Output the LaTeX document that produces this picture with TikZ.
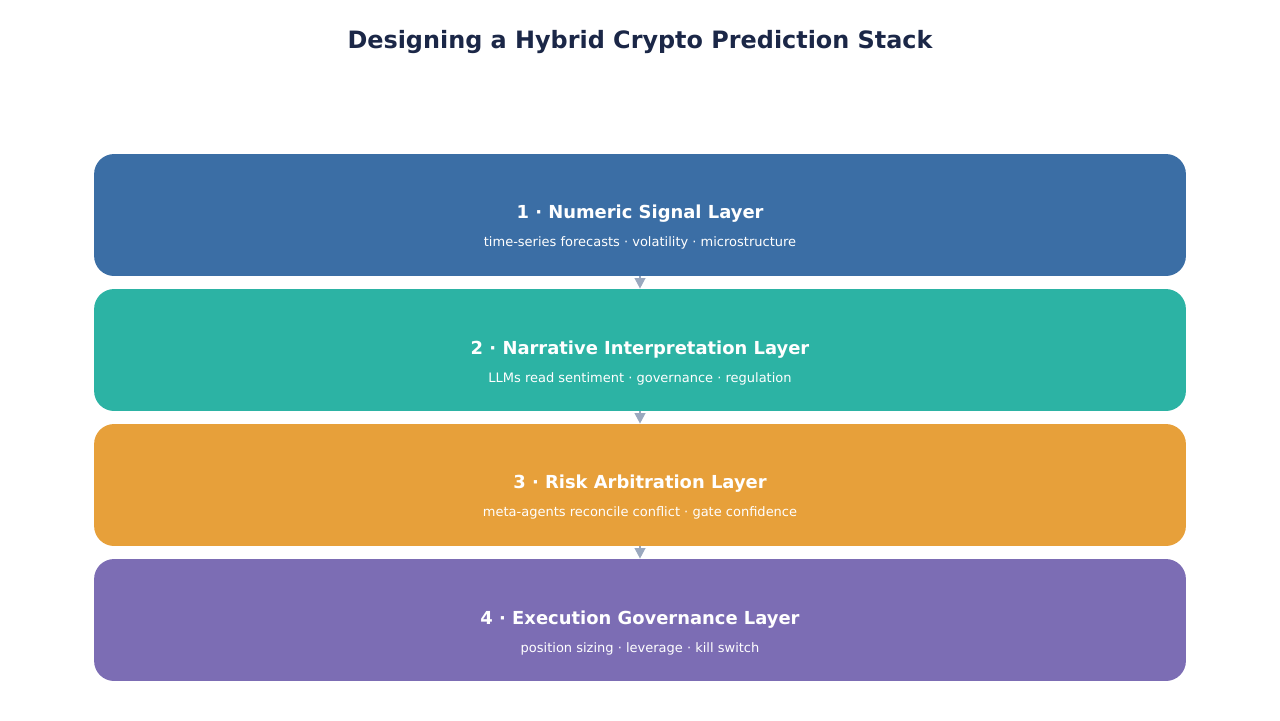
\documentclass[tikz,border=0pt]{standalone}
\usepackage{fontspec}
\setmainfont{DejaVu Sans}
\usetikzlibrary{arrows.meta}
\definecolor{titlecol}{HTML}{1B2747}
\definecolor{numcol}{HTML}{3B6EA5}
\definecolor{narcol}{HTML}{2CB3A4}
\definecolor{riskcol}{HTML}{E7A03A}
\definecolor{execcol}{HTML}{7C6DB4}
\definecolor{arrcol}{HTML}{9AA8BE}
\begin{document}
\begin{tikzpicture}[x=0.02cm,y=-0.02cm,
  layer/.style={rectangle,rounded corners=0.4cm,minimum width=21.84cm,minimum height=2.44cm,inner sep=0pt},
  head/.style={text=white,font=\bfseries\fontsize{10.2}{12}\selectfont},
  sub/.style={text=white,font=\fontsize{7.4}{9}\selectfont},
  link/.style={-{Triangle[length=6pt,width=6pt]},draw=arrcol,line width=1.2pt}]
\useasboundingbox (0,0) rectangle (1280,720);
\node at (640, 42) (T) [text=titlecol,font=\bfseries\fontsize{13.6}{16}\selectfont] {Designing a Hybrid Crypto Prediction Stack};
\node at (640,215) (L1) [layer,fill=numcol] {};
\node at (640,350) (L2) [layer,fill=narcol] {};
\node at (640,485) (L3) [layer,fill=riskcol] {};
\node at (640,620) (L4) [layer,fill=execcol] {};
\node at (640,214) (H1) [head] {1 · Numeric Signal Layer};
\node at (640,243) (S1) [sub] {time-series forecasts · volatility · microstructure};
\node at (640,350) (H2) [head] {2 · Narrative Interpretation Layer};
\node at (640,379) (S2) [sub] {LLMs read sentiment · governance · regulation};
\node at (640,484) (H3) [head] {3 · Risk Arbitration Layer};
\node at (640,513) (S3) [sub] {meta-agents reconcile conflict · gate confidence};
\node at (640,620) (H4) [head] {4 · Execution Governance Layer};
\node at (640,649) (S4) [sub] {position sizing · leverage · kill switch};
\draw [link] (L1.south) -- (L2.north);
\draw [link] (L2.south) -- (L3.north);
\draw [link] (L3.south) -- (L4.north);
\end{tikzpicture}
\end{document}
